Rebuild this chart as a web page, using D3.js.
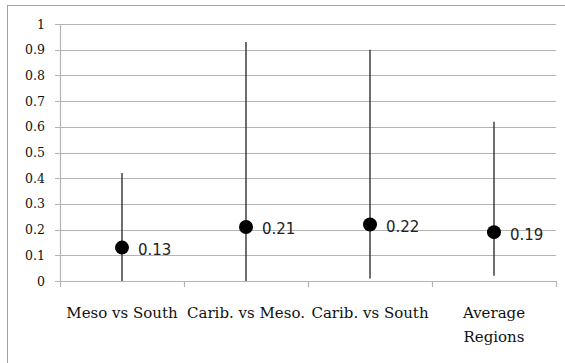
<!DOCTYPE html>
<html>
<head>
<meta charset="utf-8">
<script src="https://cdn.jsdelivr.net/npm/d3@7"></script>
<style>
  body { margin: 0; background: #fff; }
  svg { display: block; }
</style>
</head>
<body>
<svg width="565" height="363"></svg>
<script>
const svg = d3.select('svg');

// data
const categories = ['Meso vs South', 'Carib. vs Meso.', 'Carib. vs South', 'Average Regions'];
const values = [0.13, 0.21, 0.22, 0.19];
const lower = [0, 0, 0.01, 0.02];
const upper = [0.42, 0.93, 0.9, 0.62];
const yTicks = [0, 0.1, 0.2, 0.3, 0.4, 0.5, 0.6, 0.7, 0.8, 0.9, 1];
const tickLabels = ['0', '0.1', '0.2', '0.3', '0.4', '0.5', '0.6', '0.7', '0.8', '0.9', '1'];

const plotLeft = 60, plotRight = 556, plotTop = 24, plotBottom = 281;

// chart frame (only top/left edges fall inside the picture)
svg.append('rect')
  .attr('x', 7.5).attr('y', 5.5)
  .attr('width', 700).attr('height', 500)
  .attr('fill', 'none')
  .attr('stroke', '#a0a0a0');

const x = d3.scaleBand().domain(categories).range([plotLeft, plotRight]);
const y = d3.scaleLinear().domain([0, 1]).range([plotBottom, plotTop]);

// gridlines
svg.append('g')
  .selectAll('line')
  .data(yTicks)
  .join('line')
  .attr('x1', plotLeft - 5).attr('x2', plotRight)
  .attr('y1', d => Math.round(y(d)) + 0.5)
  .attr('y2', d => Math.round(y(d)) + 0.5)
  .attr('stroke', '#b4b4b4')
  .attr('stroke-width', 1.2);

// y axis line
svg.append('line')
  .attr('x1', plotLeft + 0.5).attr('x2', plotLeft + 0.5)
  .attr('y1', y(1)).attr('y2', y(0))
  .attr('stroke', '#b4b4b4')
  .attr('stroke-width', 1.2);

// x axis ticks at category boundaries
const bounds = categories.map(c => x(c)).concat([plotRight]);
svg.append('g')
  .selectAll('line')
  .data(bounds)
  .join('line')
  .attr('x1', d => Math.round(d) + 0.5).attr('x2', d => Math.round(d) + 0.5)
  .attr('y1', Math.round(y(0))).attr('y2', Math.round(y(0)) + 6)
  .attr('stroke', '#b4b4b4')
  .attr('stroke-width', 1.2);

// y tick labels
svg.append('g')
  .selectAll('text')
  .data(yTicks)
  .join('text')
  .attr('x', 45)
  .attr('y', d => y(d))
  .attr('dy', '0.36em')
  .attr('text-anchor', 'end')
  .style('font-family', '"DejaVu Serif", serif')
  .style('font-size', '12.5px')
  .style('fill', '#111')
  .text((d, i) => tickLabels[i]);

// category labels
const catText = svg.append('g')
  .selectAll('text')
  .data(categories)
  .join('text')
  .attr('x', d => x(d) + x.bandwidth() / 2)
  .attr('y', 318)
  .attr('text-anchor', 'middle')
  .style('font-family', '"DejaVu Serif", serif')
  .style('font-size', '15px')
  .style('fill', '#111');

catText.each(function(d, i) {
  const t = d3.select(this);
  if (i === 3) {
    const parts = d.split(' ');
    parts.forEach((p, j) => {
      t.append('tspan')
        .attr('x', x(d) + x.bandwidth() / 2)
        .attr('dy', j === 0 ? 0 : 24)
        .text(p);
    });
  } else {
    t.text(d);
  }
});

const pts = categories.map((c, i) => ({ c, v: values[i], lo: lower[i], hi: upper[i] }));
const cx = d => x(d.c) + x.bandwidth() / 2;

// error bars
svg.append('g')
  .selectAll('line')
  .data(pts)
  .join('line')
  .attr('x1', cx).attr('x2', cx)
  .attr('y1', d => y(d.lo)).attr('y2', d => y(d.hi))
  .attr('stroke', '#333')
  .attr('stroke-width', 1.4);

// points
svg.append('g')
  .selectAll('circle')
  .data(pts)
  .join('circle')
  .attr('cx', cx)
  .attr('cy', d => y(d.v))
  .attr('r', 7)
  .attr('fill', '#000');

// value labels
svg.append('g')
  .selectAll('text')
  .data(pts)
  .join('text')
  .attr('x', d => cx(d) + 16)
  .attr('y', d => y(d.v) + 2)
  .attr('dy', '0.36em')
  .style('font-family', '"DejaVu Sans", sans-serif')
  .style('font-size', '15px')
  .style('fill', '#222')
  .text(d => d.v.toFixed(2));
</script>
</body>
</html>
